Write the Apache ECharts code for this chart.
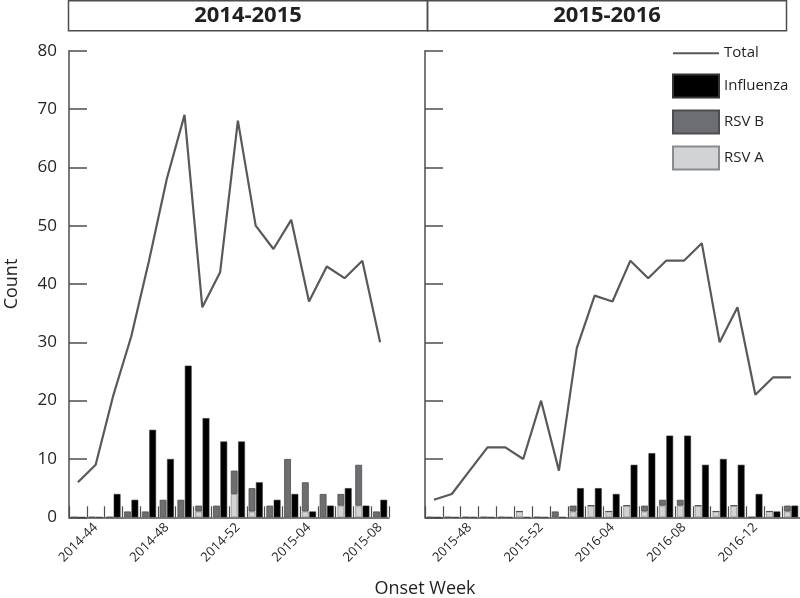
<!DOCTYPE html>
<html>
<head>
<meta charset="utf-8">
<script src="https://cdn.jsdelivr.net/npm/echarts@6/dist/echarts.min.js"></script>
<style>
html,body{margin:0;padding:0;background:#fff;}
#chart{width:800px;height:598px;}
</style>
</head>
<body>
<div id="chart"></div>
<script>
// ---- Data ----
const leftWeeks = ['2014-43','2014-44','2014-45','2014-46','2014-47','2014-48','2014-49','2014-50','2014-51','2014-52',
  '2015-01','2015-02','2015-03','2015-04','2015-05','2015-06','2015-07','2015-08'];
const leftTickLabels = ['2014-44','2014-48','2014-52','2015-04','2015-08'];
const leftTotal = [6, 9, 21, 31, 44, 58, 69, 36, 42, 68, 50, 46, 51, 37, 43, 41, 44, 30];
const leftInfluenza = [0, 0, 4, 3, 15, 10, 26, 17, 13, 13, 6, 3, 4, 1, 2, 5, 2, 3];
const leftRsvB = [0, 0, 0, 1, 1, 3, 3, 1, 2, 4, 4, 2, 10, 5, 4, 2, 7, 1];
const leftRsvA = [0, 0, 0, 0, 0, 0, 0, 1, 0, 4, 1, 0, 0, 1, 0, 2, 2, 0];

const rightWeeks = ['2015-46','2015-47','2015-48','2015-49','2015-50','2015-51','2015-52',
  '2016-01','2016-02','2016-03','2016-04','2016-05','2016-06','2016-07','2016-08','2016-09','2016-10',
  '2016-11','2016-12','2016-13','2016-14'];
const rightTickLabels = ['2015-48','2015-52','2016-04','2016-08','2016-12'];
const rightTotal = [3, 4, 8, 12, 12, 10, 20, 8, 29, 38, 37, 44, 41, 44, 44, 47, 30, 36, 21, 24, 24];
const rightInfluenza = [0, 0, 0, 0, 0, 0, 0, 0, 5, 5, 4, 9, 11, 14, 14, 9, 10, 9, 4, 1, 2];
const rightRsvB = [0, 0, 0, 0, 0, 0, 0, 1, 1, 0, 0, 0, 1, 1, 1, 0, 0, 0, 0, 0, 1];
const rightRsvA = [0, 0, 0, 0, 0, 1, 0, 0, 1, 2, 1, 2, 1, 2, 2, 2, 1, 2, 0, 1, 1];

const panelTitles = ['2014-2015', '2015-2016'];
const yTitle = 'Count';
const xTitle = 'Onset Week';

// ---- Styles ----
const FONT = '"Open Sans", "Noto Sans", sans-serif';
const TXT = '#231f20';
const AX = '#4d4d4d';
const LINE = '#58595b';
const FLU = '#000000';
const RSVB = '#6d6e71';
const RSVA = '#d1d3d4';

const chart = echarts.init(document.getElementById('chart'), null, {renderer: 'canvas'});

function xAxisCfg(gi, weeks, labels) {
  return {
    gridIndex: gi, type: 'category', data: weeks, boundaryGap: true,
    axisLine: {show: true, lineStyle: {color: AX, width: 1.5}},
    axisTick: {show: true, inside: true, length: 11, interval: 0, lineStyle: {color: AX, width: 1.2}},
    axisLabel: {
      rotate: 45, margin: 8, fontSize: 13, color: TXT, fontFamily: FONT,
      interval: function (i, v) { return labels.indexOf(v) >= 0; }
    },
    splitLine: {show: false}
  };
}
function yAxisCfg(gi, showLabels) {
  const cfg = {
    gridIndex: gi, type: 'value', min: 0, max: 80, interval: 10,
    axisLine: {show: true, lineStyle: {color: AX, width: 1.5}},
    axisTick: {show: true, inside: true, length: 18, lineStyle: {color: AX, width: 1.5}},
    axisLabel: {show: showLabels, fontSize: 17, color: TXT, fontFamily: FONT, margin: 12},
    splitLine: {show: false}
  };
  if (showLabels) {
    cfg.name = yTitle;
    cfg.nameLocation = 'middle';
    cfg.nameGap = 48;
    cfg.nameRotate = 90;
    cfg.nameTextStyle = {fontSize: 18, color: TXT, fontFamily: FONT};
  }
  return cfg;
}
function panelSeries(gi, total, flu, rsvB, rsvA, stackName) {
  const barBase = {type: 'bar', xAxisIndex: gi, yAxisIndex: gi, barWidth: 6.8, barGap: '8%'};
  return [
    Object.assign({}, barBase, {name: 'RSV A', stack: stackName, data: rsvA,
      itemStyle: {color: RSVA, borderColor: '#8a8b8d', borderWidth: 0.8}}),
    Object.assign({}, barBase, {name: 'RSV B', stack: stackName, data: rsvB,
      itemStyle: {color: RSVB, borderColor: '#4d4d4f', borderWidth: 0.8}}),
    Object.assign({}, barBase, {name: 'Influenza', data: flu,
      itemStyle: {color: FLU, borderColor: '#333333', borderWidth: 0.6}}),
    {type: 'line', name: 'Total', xAxisIndex: gi, yAxisIndex: gi, data: total,
      symbol: 'none', smooth: false, z: 5,
      lineStyle: {color: LINE, width: 2.2}, itemStyle: {color: LINE}}
  ];
}

const option = {
  backgroundColor: '#ffffff',
  animation: false,
  textStyle: {fontFamily: FONT, color: TXT},
  grid: [
    {left: 69, top: 50.7, width: 320, height: 466.6},
    {left: 425, top: 50.7, width: 375, height: 466.6}
  ],
  xAxis: [xAxisCfg(0, leftWeeks, leftTickLabels), xAxisCfg(1, rightWeeks, rightTickLabels)],
  yAxis: [yAxisCfg(0, true), yAxisCfg(1, false)],
  legend: {
    orient: 'vertical', left: 667, top: 39,
    itemWidth: 46, itemHeight: 23, itemGap: 11,
    data: [
      {name: 'Total', itemStyle: {color: 'rgba(0,0,0,0)', borderColor: 'rgba(0,0,0,0)', borderWidth: 0}},
      {name: 'Influenza', icon: 'rect'},
      {name: 'RSV B', icon: 'rect'},
      {name: 'RSV A', icon: 'rect'}
    ],
    textStyle: {fontSize: 15, color: TXT, fontFamily: FONT},
    selectedMode: false
  },
  graphic: [
    {type: 'rect', shape: {x: 68.5, y: 0.75, width: 359, height: 30}, style: {fill: 'none', stroke: AX, lineWidth: 1.5}},
    {type: 'rect', shape: {x: 427.5, y: 0.75, width: 359, height: 30}, style: {fill: 'none', stroke: AX, lineWidth: 1.5}},
    {type: 'text', x: 248, y: 16, style: {text: panelTitles[0], font: 'bold 22px ' + FONT, fill: TXT, textAlign: 'center', textVerticalAlign: 'middle'}},
    {type: 'text', x: 607, y: 16, style: {text: panelTitles[1], font: 'bold 22px ' + FONT, fill: TXT, textAlign: 'center', textVerticalAlign: 'middle'}},
    {type: 'text', x: 425, y: 589, style: {text: xTitle, font: '18px ' + FONT, fill: TXT, textAlign: 'center', textVerticalAlign: 'middle'}}
  ],
  series: [].concat(
    panelSeries(0, leftTotal, leftInfluenza, leftRsvB, leftRsvA, 'rsvLeft'),
    panelSeries(1, rightTotal, rightInfluenza, rightRsvB, rightRsvA, 'rsvRight')
  )
};
chart.setOption(option);
</script>
</body>
</html>
